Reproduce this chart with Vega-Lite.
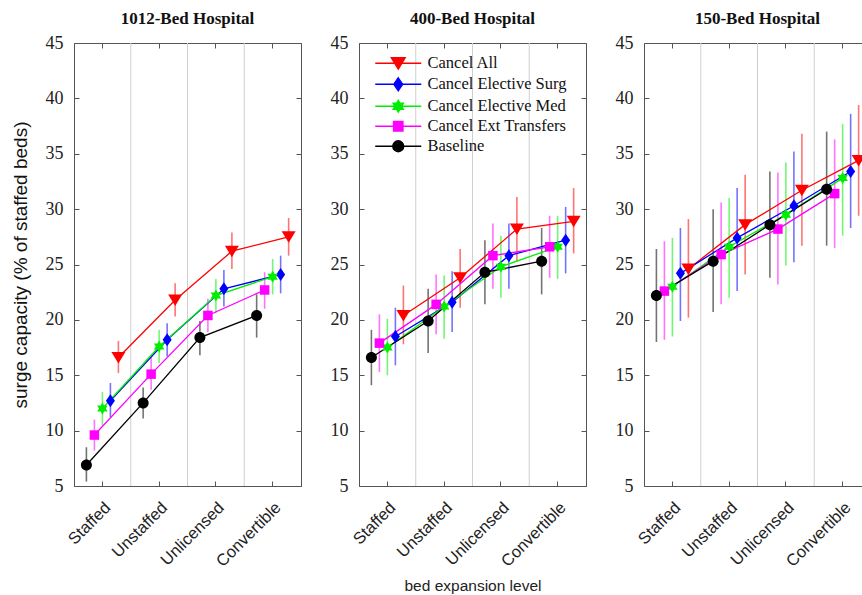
{
  "$schema": "https://vega.github.io/schema/vega-lite/v6.json",
  "background": "white",
  "padding": {"left": 10, "top": 9, "right": 0, "bottom": 0},
  "autosize": {"type": "pad"},
  "spacing": 58,
  "bounds": "flush",
  "config": {
    "view": {"stroke": "#555", "strokeWidth": 1},
    "axis": {"tickWidth": 1, "tickColor": "#555", "domain": false, "grid": false},
    "title": {"font": "Liberation Serif", "fontSize": 17, "fontWeight": "bold", "color": "#111", "offset": 6}
  },
  "data": {"values": [
    {"h":"1012","l":"Staffed","s":"Cancel All","v":16.6,"lo":15.2,"hi":18.1},
    {"h":"1012","l":"Unstaffed","s":"Cancel All","v":21.8,"lo":20.3,"hi":23.3},
    {"h":"1012","l":"Unlicensed","s":"Cancel All","v":26.2,"lo":24.6,"hi":27.9},
    {"h":"1012","l":"Convertible","s":"Cancel All","v":27.5,"lo":25.8,"hi":29.2},
    {"h":"1012","l":"Staffed","s":"Cancel Elective Surg","v":12.7,"lo":11.2,"hi":14.3},
    {"h":"1012","l":"Unstaffed","s":"Cancel Elective Surg","v":18.2,"lo":16.7,"hi":19.7},
    {"h":"1012","l":"Unlicensed","s":"Cancel Elective Surg","v":22.8,"lo":21.2,"hi":24.5},
    {"h":"1012","l":"Convertible","s":"Cancel Elective Surg","v":24.1,"lo":22.4,"hi":25.8},
    {"h":"1012","l":"Staffed","s":"Cancel Elective Med","v":12.0,"lo":10.5,"hi":13.5},
    {"h":"1012","l":"Unstaffed","s":"Cancel Elective Med","v":17.6,"lo":16.1,"hi":19.1},
    {"h":"1012","l":"Unlicensed","s":"Cancel Elective Med","v":22.2,"lo":20.6,"hi":23.7},
    {"h":"1012","l":"Convertible","s":"Cancel Elective Med","v":23.9,"lo":22.3,"hi":25.5},
    {"h":"1012","l":"Staffed","s":"Cancel Ext Transfers","v":9.6,"lo":8.2,"hi":11.0},
    {"h":"1012","l":"Unstaffed","s":"Cancel Ext Transfers","v":15.1,"lo":13.7,"hi":16.6},
    {"h":"1012","l":"Unlicensed","s":"Cancel Ext Transfers","v":20.4,"lo":18.9,"hi":21.9},
    {"h":"1012","l":"Convertible","s":"Cancel Ext Transfers","v":22.7,"lo":21.0,"hi":24.3},
    {"h":"1012","l":"Staffed","s":"Baseline","v":6.9,"lo":5.4,"hi":8.5},
    {"h":"1012","l":"Unstaffed","s":"Baseline","v":12.5,"lo":11.1,"hi":13.9},
    {"h":"1012","l":"Unlicensed","s":"Baseline","v":18.4,"lo":16.8,"hi":19.9},
    {"h":"1012","l":"Convertible","s":"Baseline","v":20.4,"lo":18.4,"hi":22.3},

    {"h":"400","l":"Staffed","s":"Cancel All","v":20.4,"lo":17.8,"hi":23.1},
    {"h":"400","l":"Unstaffed","s":"Cancel All","v":23.8,"lo":21.1,"hi":26.4},
    {"h":"400","l":"Unlicensed","s":"Cancel All","v":28.2,"lo":25.3,"hi":31.1},
    {"h":"400","l":"Convertible","s":"Cancel All","v":28.9,"lo":26.0,"hi":31.9},
    {"h":"400","l":"Staffed","s":"Cancel Elective Surg","v":18.5,"lo":15.9,"hi":21.1},
    {"h":"400","l":"Unstaffed","s":"Cancel Elective Surg","v":21.6,"lo":18.9,"hi":24.4},
    {"h":"400","l":"Unlicensed","s":"Cancel Elective Surg","v":25.8,"lo":22.8,"hi":28.7},
    {"h":"400","l":"Convertible","s":"Cancel Elective Surg","v":27.2,"lo":24.2,"hi":30.2},
    {"h":"400","l":"Staffed","s":"Cancel Elective Med","v":17.5,"lo":15.0,"hi":20.1},
    {"h":"400","l":"Unstaffed","s":"Cancel Elective Med","v":21.2,"lo":18.3,"hi":24.0},
    {"h":"400","l":"Unlicensed","s":"Cancel Elective Med","v":24.8,"lo":22.0,"hi":27.6},
    {"h":"400","l":"Convertible","s":"Cancel Elective Med","v":26.6,"lo":23.7,"hi":29.4},
    {"h":"400","l":"Staffed","s":"Cancel Ext Transfers","v":17.9,"lo":15.3,"hi":20.5},
    {"h":"400","l":"Unstaffed","s":"Cancel Ext Transfers","v":21.4,"lo":18.7,"hi":24.1},
    {"h":"400","l":"Unlicensed","s":"Cancel Ext Transfers","v":25.8,"lo":22.8,"hi":28.7},
    {"h":"400","l":"Convertible","s":"Cancel Ext Transfers","v":26.6,"lo":23.8,"hi":29.4},
    {"h":"400","l":"Staffed","s":"Baseline","v":16.6,"lo":14.1,"hi":19.1},
    {"h":"400","l":"Unstaffed","s":"Baseline","v":19.9,"lo":17.0,"hi":22.8},
    {"h":"400","l":"Unlicensed","s":"Baseline","v":24.3,"lo":21.4,"hi":27.2},
    {"h":"400","l":"Convertible","s":"Baseline","v":25.3,"lo":22.3,"hi":28.3},

    {"h":"150","l":"Staffed","s":"Cancel All","v":24.6,"lo":20.2,"hi":29.1},
    {"h":"150","l":"Unstaffed","s":"Cancel All","v":28.6,"lo":24.1,"hi":33.1},
    {"h":"150","l":"Unlicensed","s":"Cancel All","v":31.7,"lo":26.7,"hi":36.8},
    {"h":"150","l":"Convertible","s":"Cancel All","v":34.4,"lo":29.4,"hi":39.4},
    {"h":"150","l":"Staffed","s":"Cancel Elective Surg","v":24.2,"lo":19.9,"hi":28.3},
    {"h":"150","l":"Unstaffed","s":"Cancel Elective Surg","v":27.4,"lo":22.6,"hi":31.9},
    {"h":"150","l":"Unlicensed","s":"Cancel Elective Surg","v":30.3,"lo":25.2,"hi":35.2},
    {"h":"150","l":"Convertible","s":"Cancel Elective Surg","v":33.4,"lo":28.3,"hi":38.6},
    {"h":"150","l":"Staffed","s":"Cancel Elective Med","v":23.0,"lo":18.5,"hi":27.4},
    {"h":"150","l":"Unstaffed","s":"Cancel Elective Med","v":26.6,"lo":22.0,"hi":31.0},
    {"h":"150","l":"Unlicensed","s":"Cancel Elective Med","v":29.5,"lo":24.9,"hi":34.2},
    {"h":"150","l":"Convertible","s":"Cancel Elective Med","v":32.8,"lo":27.6,"hi":37.7},
    {"h":"150","l":"Staffed","s":"Cancel Ext Transfers","v":22.6,"lo":18.2,"hi":27.1},
    {"h":"150","l":"Unstaffed","s":"Cancel Ext Transfers","v":25.9,"lo":21.4,"hi":30.6},
    {"h":"150","l":"Unlicensed","s":"Cancel Ext Transfers","v":28.2,"lo":23.2,"hi":33.3},
    {"h":"150","l":"Convertible","s":"Cancel Ext Transfers","v":31.4,"lo":26.5,"hi":36.3},
    {"h":"150","l":"Staffed","s":"Baseline","v":22.2,"lo":18.0,"hi":26.4},
    {"h":"150","l":"Unstaffed","s":"Baseline","v":25.3,"lo":20.7,"hi":30.0},
    {"h":"150","l":"Unlicensed","s":"Baseline","v":28.6,"lo":23.8,"hi":33.4},
    {"h":"150","l":"Convertible","s":"Baseline","v":31.8,"lo":26.7,"hi":37.0}
  ]},
  "hconcat": [
    {
      "width": 227, "height": 443,
      "title": {"text": "1012-Bed Hospital"},
      "transform": [{"filter": "datum.h === '1012'"}],
      "layer": [
        {"transform": [{"filter": "datum.s === 'Baseline' && datum.l !== 'Staffed'"}],
         "mark": {"type": "rule", "color": "#cfcfcf", "strokeWidth": 1},
         "encoding": {"x": {"field": "l", "type": "nominal", "bandPosition": 0,
           "scale": {"domain": ["Staffed","Unstaffed","Unlicensed","Convertible"], "paddingInner": 0, "paddingOuter": 0},
           "axis": {"orient": "top", "labels": false, "title": null, "ticks": true, "tickSize": -5}}}},
        {"mark": {"type": "rule", "strokeWidth": 1.6, "strokeOpacity": 0.55},
         "encoding": {
           "x": {"field": "l", "type": "nominal", "axis": null},
           "xOffset": {"field": "s", "type": "nominal", "scale": {"type": "point", "padding": 0, "domain": ["Baseline","Cancel Ext Transfers","Cancel Elective Med","Cancel Elective Surg","Cancel All"], "range": [12.4, 44.4]}},
           "y": {"field": "lo", "type": "quantitative", "scale": {"domain": [5, 45], "nice": false, "zero": false},
             "axis": {"orient": "right", "labels": false, "title": null, "values": [5,10,15,20,25,30,35,40,45], "tickSize": -5}},
           "y2": {"field": "hi"},
           "stroke": {"field": "s", "type": "nominal", "legend": null,
             "scale": {"domain": ["Baseline","Cancel Ext Transfers","Cancel Elective Med","Cancel Elective Surg","Cancel All"], "range": ["#000000","#ff00ff","#00ee00","#0000ff","#ff0000"]}}}},
        {"mark": {"type": "line", "strokeWidth": 1.3},
         "encoding": {
           "x": {"field": "l", "type": "nominal", "axis": null},
           "xOffset": {"field": "s", "type": "nominal"},
           "y": {"field": "v", "type": "quantitative", "axis": null},
           "stroke": {"field": "s", "type": "nominal", "legend": null}}},
        {"mark": {"type": "point", "filled": true, "size": 100, "opacity": 1},
         "encoding": {
           "x": {"field": "l", "type": "nominal",
             "axis": {"orient": "bottom", "title": null, "labelAngle": -45, "labelFont": "Liberation Sans", "labelFontSize": 16.5, "labelColor": "#222", "tickSize": -5, "labelPadding": 18}},
           "xOffset": {"field": "s", "type": "nominal"},
           "y": {"field": "v", "type": "quantitative",
             "axis": {"orient": "left", "values": [5,10,15,20,25,30,35,40,45], "labelFont": "Liberation Serif", "labelFontSize": 18, "labelColor": "#222", "tickSize": -5, "labelPadding": 16,
               "title": "surge capacity (% of staffed beds)", "titleFont": "Liberation Sans", "titleFontSize": 19, "titleFontWeight": "normal", "titleColor": "#111", "titlePadding": 15}},
           "color": {"field": "s", "type": "nominal",
             "scale": {"domain": ["Cancel All","Cancel Elective Surg","Cancel Elective Med","Cancel Ext Transfers","Baseline"], "range": ["#ff0000","#0000ff","#00ee00","#ff00ff","#000000"]},
             "legend": {"orient": "none", "legendX": 316, "legendY": 12, "title": null, "padding": 0, "symbolSize": 100, "labelFont": "Liberation Serif", "labelFontSize": 16.5, "labelColor": "#111", "labelOffset": 21, "rowPadding": 3,
               "encoding": {"symbols": {
                 "shape": {"value": {"expr": "'M-4.6,0H4.6' + (datum.value === 'Cancel All' ? 'M-1.4,-1.1L1.4,-1.1L0,1.2Z' : datum.value === 'Cancel Elective Surg' ? 'M0,-1.3L0.9,0L0,1.3L-0.9,0Z' : datum.value === 'Cancel Elective Med' ? 'M0,-1.2L1.04,0.6L-1.04,0.6ZM0,1.2L-1.04,-0.6L1.04,-0.6Z' : datum.value === 'Cancel Ext Transfers' ? 'M-0.95,-0.95H0.95V0.95H-0.95Z' : 'M-1.1,0A1.1,1.1,0,1,1,1.1,0A1.1,1.1,0,1,1,-1.1,0Z')"}},
                 "stroke": {"value": {"expr": "datum.value === 'Cancel All' ? '#ff0000' : datum.value === 'Cancel Elective Surg' ? '#0000ff' : datum.value === 'Cancel Elective Med' ? '#00ee00' : datum.value === 'Cancel Ext Transfers' ? '#ff00ff' : '#000000'"}},
                 "opacity": {"value": 1},
                 "strokeWidth": {"value": 1.3}}}}},
           "shape": {"field": "s", "type": "nominal", "legend": null,
             "scale": {"domain": ["Baseline","Cancel Ext Transfers","Cancel Elective Med","Cancel Elective Surg","Cancel All"],
               "range": ["M-1.1,0A1.1,1.1,0,1,1,1.1,0A1.1,1.1,0,1,1,-1.1,0Z","M-0.95,-0.95H0.95V0.95H-0.95Z","M0,-1.2L1.04,0.6L-1.04,0.6ZM0,1.2L-1.04,-0.6L1.04,-0.6Z","M0,-1.3L0.9,0L0,1.3L-0.9,0Z","M-1.4,-1.1L1.4,-1.1L0,1.2Z"]}}}}
      ],
      "resolve": {"axis": {"x": "independent", "y": "independent"}}
    },
    {
      "width": 227, "height": 443,
      "title": {"text": "400-Bed Hospital"},
      "transform": [{"filter": "datum.h === '400'"}],
      "layer": [
        {"transform": [{"filter": "datum.s === 'Baseline' && datum.l !== 'Staffed'"}],
         "mark": {"type": "rule", "color": "#cfcfcf", "strokeWidth": 1},
         "encoding": {"x": {"field": "l", "type": "nominal", "bandPosition": 0,
           "scale": {"domain": ["Staffed","Unstaffed","Unlicensed","Convertible"], "paddingInner": 0, "paddingOuter": 0},
           "axis": {"orient": "top", "labels": false, "title": null, "ticks": true, "tickSize": -5}}}},
        {"mark": {"type": "rule", "strokeWidth": 1.6, "strokeOpacity": 0.55},
         "encoding": {
           "x": {"field": "l", "type": "nominal", "axis": null},
           "xOffset": {"field": "s", "type": "nominal", "scale": {"type": "point", "padding": 0, "domain": ["Baseline","Cancel Ext Transfers","Cancel Elective Med","Cancel Elective Surg","Cancel All"], "range": [12.4, 44.4]}},
           "y": {"field": "lo", "type": "quantitative", "scale": {"domain": [5, 45], "nice": false, "zero": false},
             "axis": {"orient": "right", "labels": false, "title": null, "values": [5,10,15,20,25,30,35,40,45], "tickSize": -5}},
           "y2": {"field": "hi"},
           "stroke": {"field": "s", "type": "nominal", "legend": null}}},
        {"mark": {"type": "line", "strokeWidth": 1.3},
         "encoding": {
           "x": {"field": "l", "type": "nominal", "axis": null},
           "xOffset": {"field": "s", "type": "nominal"},
           "y": {"field": "v", "type": "quantitative", "axis": null},
           "stroke": {"field": "s", "type": "nominal", "legend": null}}},
        {"mark": {"type": "point", "filled": true, "size": 100, "opacity": 1},
         "encoding": {
           "x": {"field": "l", "type": "nominal",
             "axis": {"orient": "bottom", "title": "bed expansion level", "titleFont": "Liberation Sans", "titleFontSize": 15.5, "titleFontWeight": "normal", "titleColor": "#222", "titlePadding": 9,
               "labelAngle": -45, "labelFont": "Liberation Sans", "labelFontSize": 16.5, "labelColor": "#222", "tickSize": -5, "labelPadding": 18}},
           "xOffset": {"field": "s", "type": "nominal"},
           "y": {"field": "v", "type": "quantitative",
             "axis": {"orient": "left", "values": [5,10,15,20,25,30,35,40,45], "labelFont": "Liberation Serif", "labelFontSize": 18, "labelColor": "#222", "tickSize": -5, "labelPadding": 16, "title": null}},
           "color": {"field": "s", "type": "nominal",
             "legend": {"orient": "none", "legendX": 316, "legendY": 12, "title": null, "padding": 0, "symbolSize": 100, "labelFont": "Liberation Serif", "labelFontSize": 16.5, "labelColor": "#111", "labelOffset": 21, "rowPadding": 3,
               "encoding": {"symbols": {
                 "shape": {"value": {"expr": "'M-4.6,0H4.6' + (datum.value === 'Cancel All' ? 'M-1.4,-1.1L1.4,-1.1L0,1.2Z' : datum.value === 'Cancel Elective Surg' ? 'M0,-1.3L0.9,0L0,1.3L-0.9,0Z' : datum.value === 'Cancel Elective Med' ? 'M0,-1.2L1.04,0.6L-1.04,0.6ZM0,1.2L-1.04,-0.6L1.04,-0.6Z' : datum.value === 'Cancel Ext Transfers' ? 'M-0.95,-0.95H0.95V0.95H-0.95Z' : 'M-1.1,0A1.1,1.1,0,1,1,1.1,0A1.1,1.1,0,1,1,-1.1,0Z')"}},
                 "stroke": {"value": {"expr": "datum.value === 'Cancel All' ? '#ff0000' : datum.value === 'Cancel Elective Surg' ? '#0000ff' : datum.value === 'Cancel Elective Med' ? '#00ee00' : datum.value === 'Cancel Ext Transfers' ? '#ff00ff' : '#000000'"}},
                 "opacity": {"value": 1},
                 "strokeWidth": {"value": 1.3}}}}},
           "shape": {"field": "s", "type": "nominal", "legend": null}}}
      ],
      "resolve": {"axis": {"x": "independent", "y": "independent"}}
    },
    {
      "width": 227, "height": 443,
      "title": {"text": "150-Bed Hospital"},
      "transform": [{"filter": "datum.h === '150'"}],
      "layer": [
        {"transform": [{"filter": "datum.s === 'Baseline' && datum.l !== 'Staffed'"}],
         "mark": {"type": "rule", "color": "#cfcfcf", "strokeWidth": 1},
         "encoding": {"x": {"field": "l", "type": "nominal", "bandPosition": 0,
           "scale": {"domain": ["Staffed","Unstaffed","Unlicensed","Convertible"], "paddingInner": 0, "paddingOuter": 0},
           "axis": {"orient": "top", "labels": false, "title": null, "ticks": true, "tickSize": -5}}}},
        {"mark": {"type": "rule", "strokeWidth": 1.6, "strokeOpacity": 0.55},
         "encoding": {
           "x": {"field": "l", "type": "nominal", "axis": null},
           "xOffset": {"field": "s", "type": "nominal", "scale": {"type": "point", "padding": 0, "domain": ["Baseline","Cancel Ext Transfers","Cancel Elective Med","Cancel Elective Surg","Cancel All"], "range": [12.4, 44.4]}},
           "y": {"field": "lo", "type": "quantitative", "scale": {"domain": [5, 45], "nice": false, "zero": false},
             "axis": {"orient": "right", "labels": false, "title": null, "values": [5,10,15,20,25,30,35,40,45], "tickSize": -5}},
           "y2": {"field": "hi"},
           "stroke": {"field": "s", "type": "nominal", "legend": null}}},
        {"mark": {"type": "line", "strokeWidth": 1.3},
         "encoding": {
           "x": {"field": "l", "type": "nominal", "axis": null},
           "xOffset": {"field": "s", "type": "nominal"},
           "y": {"field": "v", "type": "quantitative", "axis": null},
           "stroke": {"field": "s", "type": "nominal", "legend": null}}},
        {"mark": {"type": "point", "filled": true, "size": 100, "opacity": 1},
         "encoding": {
           "x": {"field": "l", "type": "nominal",
             "axis": {"orient": "bottom", "title": null, "labelAngle": -45, "labelFont": "Liberation Sans", "labelFontSize": 16.5, "labelColor": "#222", "tickSize": -5, "labelPadding": 18}},
           "xOffset": {"field": "s", "type": "nominal"},
           "y": {"field": "v", "type": "quantitative",
             "axis": {"orient": "left", "values": [5,10,15,20,25,30,35,40,45], "labelFont": "Liberation Serif", "labelFontSize": 18, "labelColor": "#222", "tickSize": -5, "labelPadding": 16, "title": null}},
           "color": {"field": "s", "type": "nominal",
             "legend": {"orient": "none", "legendX": 316, "legendY": 12, "title": null, "padding": 0, "symbolSize": 100, "labelFont": "Liberation Serif", "labelFontSize": 16.5, "labelColor": "#111", "labelOffset": 21, "rowPadding": 3,
               "encoding": {"symbols": {
                 "shape": {"value": {"expr": "'M-4.6,0H4.6' + (datum.value === 'Cancel All' ? 'M-1.4,-1.1L1.4,-1.1L0,1.2Z' : datum.value === 'Cancel Elective Surg' ? 'M0,-1.3L0.9,0L0,1.3L-0.9,0Z' : datum.value === 'Cancel Elective Med' ? 'M0,-1.2L1.04,0.6L-1.04,0.6ZM0,1.2L-1.04,-0.6L1.04,-0.6Z' : datum.value === 'Cancel Ext Transfers' ? 'M-0.95,-0.95H0.95V0.95H-0.95Z' : 'M-1.1,0A1.1,1.1,0,1,1,1.1,0A1.1,1.1,0,1,1,-1.1,0Z')"}},
                 "stroke": {"value": {"expr": "datum.value === 'Cancel All' ? '#ff0000' : datum.value === 'Cancel Elective Surg' ? '#0000ff' : datum.value === 'Cancel Elective Med' ? '#00ee00' : datum.value === 'Cancel Ext Transfers' ? '#ff00ff' : '#000000'"}},
                 "opacity": {"value": 1},
                 "strokeWidth": {"value": 1.3}}}}},
           "shape": {"field": "s", "type": "nominal", "legend": null}}}
      ],
      "resolve": {"axis": {"x": "independent", "y": "independent"}}
    }
  ]
}
